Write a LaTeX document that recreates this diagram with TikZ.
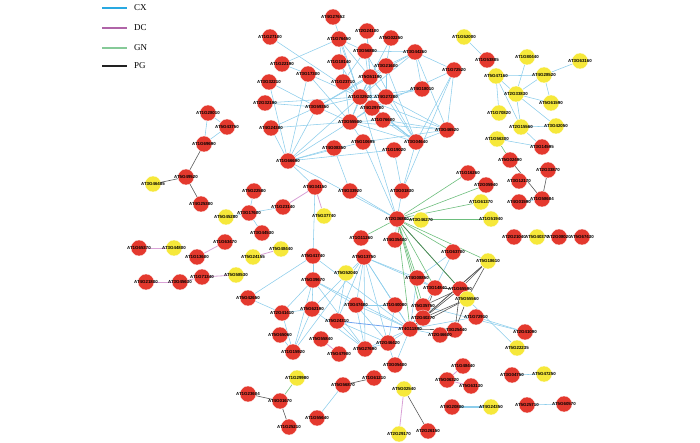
\documentclass[tikz,border=0pt]{standalone}
\usepackage{fontspec}
\setmainfont{Liberation Serif}
\newfontfamily\lblfont{Liberation Sans}
\usetikzlibrary{backgrounds}
\definecolor{nred}{HTML}{E4392E}
\definecolor{nyel}{HTML}{F6E83A}
\definecolor{ecx}{HTML}{8CCDEB}
\definecolor{edc}{HTML}{D9A2D6}
\definecolor{egn}{HTML}{6DBE7D}
\definecolor{epg}{HTML}{5A5A5A}
\definecolor{lcx}{HTML}{29A9E1}
\definecolor{ldc}{HTML}{B064A8}
\definecolor{lgn}{HTML}{86CA98}
\definecolor{lpg}{HTML}{222222}
\tikzset{
  rn/.style={circle,fill=nred,draw=white,line width=0.3pt,minimum size=16pt,inner sep=0pt},
  yn/.style={circle,fill=nyel,draw=white,line width=0.3pt,minimum size=16pt,inner sep=0pt},
  lb/.style={font=\lblfont\bfseries\fontsize{4.4}{4.4}\selectfont,inner sep=0pt,text=black},
  cx/.style={ecx,line width=0.55pt},
  dc/.style={edc,line width=0.8pt},
  gn/.style={egn,line width=0.6pt},
  pg/.style={epg,line width=0.6pt},
  legline/.style={line width=1.6pt},
  legtext/.style={font=\fontsize{9}{9}\selectfont,anchor=west,inner sep=0pt}
}
\newcommand{\Rn}[3]{\node[rn] (#1) at (#2,#3) {}; \node[lb] at (#1) {#1};}
\newcommand{\Yn}[3]{\node[yn] (#1) at (#2,#3) {}; \node[lb] at (#1) {#1};}
\begin{document}
\begin{tikzpicture}[x=1pt,y=-1pt]
\useasboundingbox (0,0) rectangle (700,443);
% legend
\coordinate (l1a) at (102,8); \coordinate (l1b) at (127,8);
\coordinate (l2a) at (102,28); \coordinate (l2b) at (127,28);
\coordinate (l3a) at (102,48); \coordinate (l3b) at (127,48);
\coordinate (l4a) at (102,66); \coordinate (l4b) at (127,66);
\draw[legline,lcx] (l1a) -- (l1b); \node[legtext] (t1) at (134,8) {CX};
\draw[legline,ldc] (l2a) -- (l2b); \node[legtext] (t2) at (134,28) {DC};
\draw[legline,lgn] (l3a) -- (l3b); \node[legtext] (t3) at (134,48) {GN};
\draw[legline,lpg] (l4a) -- (l4b); \node[legtext] (t4) at (134,66) {PG};
% nodes
\Rn{AT1G28010}{208}{113}
\Rn{AT5G43750}{227}{127}
\Rn{AT1G69690}{204}{144}
\Rn{AT5G49520}{186}{177}
\Yn{AT3G46485}{153}{184}
\Rn{AT4G25380}{201}{204}
\Rn{AT5G22580}{254}{191}
\Rn{AT3G17600}{249}{213}
\Yn{AT5G45280}{226}{217}
\Rn{AT3G44530}{262}{233}
\Rn{AT4G24380}{271}{128}
\Rn{AT4G27652}{333}{17}
\Rn{AT2G24100}{367}{31}
\Rn{AT5G02250}{391}{38}
\Rn{AT1G27100}{270}{37}
\Rn{AT1G76450}{339}{39}
\Rn{AT3G56880}{365}{51}
\Rn{AT3G44260}{415}{52}
\Rn{AT1G18140}{339}{62}
\Rn{AT1G22190}{282}{64}
\Rn{AT3G17300}{308}{74}
\Rn{AT3G21600}{386}{66}
\Rn{AT5G51190}{370}{77}
\Rn{AT1G23710}{343}{82}
\Rn{AT3G32210}{269}{82}
\Rn{AT4G18010}{422}{89}
\Rn{AT2G32190}{265}{103}
\Rn{AT1G32920}{360}{97}
\Rn{AT4G27280}{386}{97}
\Rn{AT3G59350}{317}{107}
\Rn{AT4G29780}{372}{108}
\Rn{AT3G55500}{350}{122}
\Rn{AT1G76600}{383}{120}
\Rn{AT5G10695}{363}{142}
\Rn{AT3G04640}{416}{142}
\Rn{AT4G08350}{334}{148}
\Rn{AT1G19020}{394}{150}
\Rn{AT3G46520}{447}{130}
\Rn{AT1G72520}{454}{70}
\Yn{AT1G52000}{464}{37}
\Rn{AT1G53885}{487}{60}
\Yn{AT1G80440}{527}{57}
\Yn{AT3G63160}{580}{61}
\Yn{AT5G47160}{496}{76}
\Yn{AT4G28520}{544}{75}
\Yn{AT2G33830}{516}{94}
\Yn{AT5G61590}{551}{103}
\Yn{AT1G70820}{499}{113}
\Yn{AT2G15560}{521}{127}
\Yn{AT3G42050}{556}{126}
\Yn{AT1G56300}{497}{139}
\Rn{AT3G14595}{542}{147}
\Rn{AT5G02490}{510}{160}
\Rn{AT1G16260}{468}{173}
\Rn{AT2G33870}{548}{170}
\Rn{AT2G05940}{486}{185}
\Rn{AT3G12170}{519}{181}
\Yn{AT1G61370}{481}{202}
\Rn{AT1G58684}{542}{199}
\Rn{AT4G01590}{519}{202}
\Yn{AT1G51940}{491}{219}
\Rn{AT2G21040}{514}{237}
\Yn{AT5G40370}{537}{237}
\Rn{AT2G08020}{559}{237}
\Rn{AT5G67430}{582}{237}
\Rn{AT1G63700}{453}{252}
\Yn{AT5G18610}{488}{261}
\Rn{AT1G66690}{288}{161}
\Rn{AT4G34150}{315}{187}
\Rn{AT4G33920}{350}{191}
\Rn{AT3G01830}{402}{191}
\Rn{AT1G23140}{283}{207}
\Yn{AT5G37740}{324}{216}
\Rn{AT2G36880}{397}{219}
\Yn{AT3G46270}{421}{220}
\Rn{AT1G11260}{361}{238}
\Rn{AT4G35400}{395}{240}
\Yn{AT5G48440}{281}{249}
\Rn{AT5G41740}{313}{256}
\Rn{AT5G13750}{364}{257}
\Yn{AT5G52040}{346}{273}
\Rn{AT5G39670}{313}{280}
\Rn{AT4G08850}{417}{278}
\Rn{AT1G65370}{139}{248}
\Yn{AT3G44800}{174}{248}
\Rn{AT1G63470}{225}{242}
\Rn{AT1G13600}{197}{257}
\Yn{AT5G24155}{253}{257}
\Rn{AT4G21800}{146}{282}
\Rn{AT3G45630}{180}{282}
\Rn{AT1G71340}{202}{277}
\Yn{AT5G58530}{236}{275}
\Rn{AT5G42650}{248}{298}
\Rn{AT2G41410}{282}{313}
\Rn{AT5G62190}{312}{309}
\Rn{AT3G47480}{356}{305}
\Rn{AT5G24310}{337}{321}
\Rn{AT1G40080}{395}{305}
\Rn{AT5G35750}{423}{306}
\Rn{AT2G40270}{423}{318}
\Rn{AT4G11890}{410}{329}
\Rn{AT5G65060}{280}{335}
\Rn{AT5G55840}{321}{339}
\Rn{AT1G15920}{293}{352}
\Rn{AT5G47900}{339}{354}
\Rn{AT5G27690}{365}{349}
\Rn{AT2G46420}{388}{343}
\Rn{AT3G05400}{395}{365}
\Yn{AT1G29980}{297}{378}
\Rn{AT5G56870}{343}{385}
\Rn{AT1G61210}{374}{378}
\Yn{AT5G02540}{404}{389}
\Rn{AT4G01670}{280}{401}
\Rn{AT1G55640}{317}{418}
\Rn{AT1G25210}{289}{427}
\Yn{AT2G29170}{399}{434}
\Rn{AT2G26150}{428}{431}
\Rn{AT1G23604}{248}{394}
\Rn{AT3G14840}{435}{288}
\Rn{AT1G65590}{460}{289}
\Yn{AT5G55560}{467}{299}
\Rn{AT1G72910}{476}{317}
\Rn{AT3G25440}{455}{330}
\Rn{AT2G46600}{440}{335}
\Rn{AT2G41090}{525}{332}
\Yn{AT5G22235}{517}{348}
\Rn{AT1G48440}{463}{366}
\Rn{AT5G06320}{447}{380}
\Rn{AT5G63130}{471}{386}
\Rn{AT3G04750}{512}{375}
\Yn{AT5G47250}{544}{374}
\Rn{AT4G20800}{452}{407}
\Yn{AT4G24350}{491}{407}
\Rn{AT5G25710}{527}{405}
\Rn{AT5G60570}{564}{404}
% edges
\begin{scope}[on background layer]
\foreach \a/\b in {AT1G28010/AT5G43750,AT1G28010/AT1G69690,AT5G43750/AT1G69690,
 AT5G22580/AT3G17600,AT3G17600/AT5G45280,AT3G17600/AT3G44530,AT3G17600/AT1G23140,
 AT4G34150/AT5G41740,AT1G66690/AT4G34150,
 AT1G27100/AT1G32920,AT1G22190/AT1G76450,AT1G22190/AT3G17300,AT3G32210/AT3G59350,
 AT2G32190/AT1G32920,AT2G32190/AT3G59350,AT3G17300/AT1G32920,AT3G17300/AT3G55500,
 AT4G27652/AT1G32920,AT1G76450/AT3G56880,AT1G76450/AT1G32920,AT1G76450/AT4G27280,
 AT1G76450/AT3G55500,AT2G24100/AT5G51190,AT2G24100/AT4G29780,AT5G02250/AT3G21600,
 AT5G02250/AT1G32920,AT3G56880/AT3G44260,AT3G56880/AT1G23710,AT3G56880/AT4G29780,
 AT3G56880/AT3G04640,AT3G44260/AT3G21600,AT3G44260/AT1G32920,AT3G44260/AT3G46520,
 AT3G44260/AT4G18010,AT3G44260/AT3G59350,AT3G44260/AT1G72520,AT1G72520/AT3G46520,
 AT1G72520/AT3G04640,AT1G72520/AT4G29780,AT1G72520/AT3G01830,AT3G46520/AT1G32920,
 AT3G46520/AT4G27280,AT3G46520/AT3G55500,AT3G46520/AT3G04640,AT3G46520/AT1G76600,
 AT3G46520/AT5G10695,AT3G21600/AT1G32920,AT3G21600/AT4G27280,AT3G21600/AT3G59350,
 AT3G21600/AT3G04640,AT5G51190/AT1G32920,AT5G51190/AT4G27280,AT5G51190/AT3G55500,
 AT1G18140/AT1G32920,AT1G23710/AT1G32920,AT1G23710/AT3G04640,AT1G32920/AT4G27280,
 AT1G32920/AT4G29780,AT1G32920/AT3G59350,AT1G32920/AT3G55500,AT1G32920/AT1G76600,
 AT1G32920/AT3G04640,AT1G32920/AT1G66690,AT4G27280/AT4G29780,AT4G27280/AT3G55500,
 AT4G27280/AT3G04640,AT4G27280/AT4G18010,AT4G29780/AT3G55500,AT4G29780/AT1G76600,
 AT4G29780/AT3G04640,AT3G59350/AT3G55500,AT3G59350/AT1G66690,AT4G24380/AT3G55500,
 AT4G24380/AT3G59350,AT3G55500/AT1G66690,AT3G55500/AT1G76600,AT3G55500/AT3G04640,
 AT3G55500/AT5G10695,AT1G76600/AT3G04640,AT4G18010/AT1G32920,AT1G66690/AT4G08350,
 AT1G66690/AT1G19020,AT1G66690/AT5G10695,AT1G66690/AT2G36880,AT4G24380/AT1G66690,
 AT3G17300/AT1G66690,AT3G32210/AT1G66690,AT4G08350/AT4G33920,AT4G33920/AT2G36880,
 AT1G19020/AT3G01830,AT3G01830/AT2G36880,AT2G36880/AT5G10695,AT2G36880/AT1G32920,
 AT3G04640/AT3G01830,AT2G36880/AT4G35400,
 AT5G41740/AT5G39670,AT5G42650/AT5G41740,AT5G42650/AT2G41410,AT5G41740/AT4G11890,
 AT5G13750/AT5G62190,AT5G13750/AT3G47480,AT5G13750/AT5G24310,AT5G13750/AT1G40080,
 AT5G13750/AT4G11890,AT5G13750/AT2G46420,AT5G13750/AT5G27690,AT5G13750/AT4G08850,
 AT5G13750/AT3G14840,AT5G13750/AT1G15920,AT5G52040/AT5G24310,
 AT5G39670/AT2G41410,AT5G39670/AT5G62190,AT5G39670/AT3G47480,AT5G39670/AT1G15920,
 AT5G39670/AT5G27690,AT5G39670/AT4G11890,AT2G41410/AT5G62190,AT2G41410/AT1G15920,
 AT5G62190/AT1G15920,AT5G62190/AT5G27690,AT3G47480/AT5G27690,AT3G47480/AT4G11890,
 AT3G47480/AT2G46420,AT3G47480/AT1G40080,AT5G24310/AT5G27690,AT5G24310/AT2G46420,
 AT1G40080/AT4G11890,AT1G40080/AT2G46420,AT5G35750/AT4G11890,AT2G40270/AT4G11890,
 AT4G11890/AT2G46420,AT4G11890/AT3G05400,AT4G11890/AT1G72910,AT5G65060/AT1G15920,
 AT5G27690/AT2G46420,AT5G27690/AT4G11890,AT2G46420/AT3G05400,AT3G14840/AT4G11890,
 AT1G72910/AT2G41090,AT5G35750/AT2G41090,AT5G55560/AT5G22235,AT1G63700/AT3G14840,
 AT1G63700/AT4G08850,AT2G46600/AT4G11890,AT4G08850/AT3G14840,AT4G08850/AT4G11890,
 AT5G56870/AT1G55640,AT3G04750/AT5G47250,AT5G25710/AT5G60570,
 AT1G52000/AT1G53885,AT5G47160/AT4G28520,AT5G47160/AT2G33830,AT5G47160/AT1G70820,
 AT5G47160/AT2G15560,AT1G80440/AT2G33830,AT3G63160/AT4G28520,AT4G28520/AT2G33830,
 AT4G28520/AT5G61590,AT2G33830/AT5G61590,AT2G33830/AT3G42050,AT2G33830/AT2G15560,
 AT2G15560/AT3G42050,AT2G15560/AT3G14595,AT1G56300/AT3G14595,AT1G58684/AT4G01590}
 \draw[cx] (\a) -- (\b);
\draw[cx,line width=1.3pt] (AT4G20800) -- (AT4G24350);
\draw[ecx!80!blue,line width=0.8pt] (AT5G24310) -- (AT4G11890);
\foreach \a/\b in {AT1G23140/AT4G34150,AT4G34150/AT5G37740,AT1G65370/AT3G44800,
 AT1G63470/AT1G13600,AT4G21800/AT3G45630,AT3G45630/AT1G71340,AT1G71340/AT5G58530,
 AT5G24155/AT5G48440,AT5G55840/AT5G47900,AT5G02540/AT2G29170,AT1G48440/AT5G06320,
 AT5G06320/AT5G63130}
 \draw[dc] (\a) -- (\b);
\foreach \a/\b in {AT2G36880/AT1G16260,AT2G36880/AT2G05940,AT2G36880/AT1G61370,
 AT2G36880/AT1G51940,AT2G36880/AT3G46270,AT2G36880/AT1G63700,AT2G36880/AT5G18610,
 AT2G36880/AT1G11260,AT2G36880/AT4G08850,AT2G36880/AT3G14840,AT2G36880/AT1G65590,
 AT2G36880/AT5G35750,AT2G36880/AT2G40270,AT2G36880/AT4G11890,AT1G56300/AT5G02490,
 AT1G29980/AT4G01670}
 \draw[gn] (\a) -- (\b);
\draw[egn!70!black,line width=0.7pt] (AT2G36880) -- (AT1G65590);
\foreach \a/\b in {AT1G69690/AT5G49520,AT5G49520/AT3G46485,AT5G49520/AT4G25380,
 AT5G02490/AT1G58684,AT2G33870/AT1G58684,AT4G11890/AT3G25440,AT4G11890/AT5G55560,
 AT3G14840/AT1G65590,AT3G14840/AT2G40270,AT1G65590/AT5G55560,AT1G65590/AT5G18610,
 AT1G65590/AT3G25440,AT1G65590/AT4G11890,AT5G55560/AT5G18610,AT5G55560/AT3G25440,
 AT5G55560/AT2G40270,AT5G18610/AT2G40270,AT5G18610/AT4G11890,AT3G25440/AT2G46600,
 AT5G35750/AT1G65590,AT4G01670/AT1G25210,AT1G23604/AT4G01670,AT5G56870/AT1G61210,
 AT5G02540/AT2G26150}
 \draw[pg] (\a) -- (\b);
\end{scope}
\end{tikzpicture}
\end{document}
